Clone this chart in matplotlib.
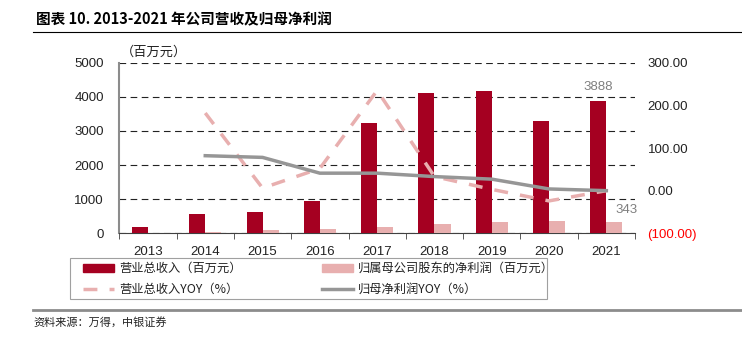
import matplotlib
matplotlib.use("Agg")
import matplotlib.pyplot as plt
import numpy as np
from matplotlib.lines import Line2D
from matplotlib.patches import Rectangle
from matplotlib.ticker import FixedLocator, FuncFormatter

plt.rcParams['font.family'] = ['Liberation Sans', 'Noto Sans CJK SC', 'DejaVu Sans']
CJK = ['Noto Sans CJK SC', 'DejaVu Sans']

years = ['2013', '2014', '2015', '2016', '2017', '2018', '2019', '2020', '2021']
revenue = [185, 575, 625, 938, 3234, 4105, 4173, 3284, 3888]
net_profit = [8, 47, 97, 126, 185, 263, 331, 351, 343]
revenue_yoy = [np.nan, 182, 6, 52, 235, 33, 3, -24, 0]
profit_yoy = [np.nan, 82, 78, 41, 41, 33, 27, 4, 0]

RED = '#A50021'
PINK = '#E8AFAF'
GRAY = '#969696'
DASH = (0, (4, 3.5))

W, H = 742, 341


def fx(px):
    return px / W


def fy(py):
    return 1 - py / H


fig = plt.figure(figsize=(7.42, 3.41), dpi=100)
ax = fig.add_axes([0.1608, 0.3158, 0.695, 0.5003])
ax2 = ax.twinx()

x = np.arange(len(years))
w = 0.28
ax.bar(x - w / 2, revenue, w, color=RED, zorder=3)
ax.bar(x + w / 2, net_profit, w, color=PINK, zorder=3)
ax.set_xlim(-0.5, len(years) - 0.5)
ax.set_ylim(0, 5000)
ax.set_yticks(range(0, 5001, 1000))
ax.yaxis.grid(True, color='#222222', linestyle=(0, (6, 4)), linewidth=0.8)
ax.set_axisbelow(True)
ax.set_xticks(x)
ax.set_xticklabels(years)
ax.xaxis.set_minor_locator(FixedLocator(np.arange(-0.5, len(years), 1.0)))
ax.tick_params(axis='x', which='major', length=0, pad=9, labelsize=9.5, colors='#222222')
ax.tick_params(axis='x', which='minor', length=4, direction='out', color='#404040')
ax.tick_params(axis='y', length=0, pad=11, labelsize=9.5, colors='#222222')
for s in ['top', 'right']:
    ax.spines[s].set_visible(False)
ax.spines['left'].set_color('#8c8c8c')
ax.spines['left'].set_linewidth(1.5)
ax.spines['bottom'].set_color('#404040')

ax2.plot(x, revenue_yoy, color=PINK, lw=2.5, linestyle=DASH, zorder=4)
ax2.plot(x, profit_yoy, color=GRAY, lw=2.5, zorder=5)
ax2.set_ylim(-100, 300)
ax2.set_yticks(range(-100, 301, 100))
ax2.yaxis.set_major_formatter(FuncFormatter(
    lambda v, p: '(%.2f)' % abs(v) if v < 0 else '%.2f' % v))
ax2.tick_params(axis='y', length=0, pad=9, labelsize=9.5, colors='#222222')
for lbl in ax2.get_yticklabels():
    if lbl.get_text().startswith('('):
        lbl.set_color('#FF0000')
for s in ax2.spines.values():
    s.set_visible(False)

ax.annotate(str(revenue[-1]), (x[-1] - w / 2, revenue[-1]), xytext=(0, 10),
            textcoords='offset points', ha='center', va='center',
            color='#7f7f7f', fontsize=9.5)
ax.annotate(str(net_profit[-1]), (x[-1] + w / 2, net_profit[-1]), xytext=(9, 8.5),
            textcoords='offset points', ha='center', va='center',
            color='#7f7f7f', fontsize=9.5)

fig.text(fx(121), fy(52), '（百万元）', family=CJK, fontsize=9.5,
         va='center', ha='left', color='#222222')

# title and rules
fig.text(fx(36), fy(19), '图表 10. 2013-2021 年公司营收及归母净利润',
         family=CJK, fontsize=10.5, fontweight='bold', va='center', ha='left')
fig.add_artist(Line2D([fx(33), 1], [fy(32)] * 2, color='black', lw=0.8))
fig.add_artist(Line2D([fx(33), 1], [fy(310)] * 2, color='#8c8c8c', lw=2))
fig.text(fx(33), fy(322), '资料来源：万得，中银证券', family=CJK,
         fontsize=8, style='italic', va='center', ha='left', color='#222222')

# legend, laid out by hand to match the reference columns
fig.add_artist(Rectangle((fx(70), fy(299)), fx(477), 41 / H, transform=fig.transFigure,
                         fill=False, edgecolor='#a0a0a0', lw=0.8))
legend_items = [
    ('patch', RED, '营业总收入（百万元）', 83, 268),
    ('patch', PINK, '归属母公司股东的净利润（百万元）', 322, 268),
    ('dash', PINK, '营业总收入YOY（%）', 83, 289),
    ('line', GRAY, '归母净利润YOY（%）', 322, 289),
]
for kind, color, label, px, py in legend_items:
    if kind == 'patch':
        fig.add_artist(Rectangle((fx(px), fy(py + 4)), fx(31), 8 / H,
                                 transform=fig.transFigure, color=color))
    else:
        fig.add_artist(Line2D([fx(px), fx(px + 31)], [fy(py)] * 2, color=color, lw=2.5,
                              linestyle=DASH if kind == 'dash' else '-'))
    fig.text(fx(px + 36), fy(py), label, family=CJK, fontsize=8.8,
             va='center', ha='left', color='#222222')

fig.savefig('out.png', dpi=100)
